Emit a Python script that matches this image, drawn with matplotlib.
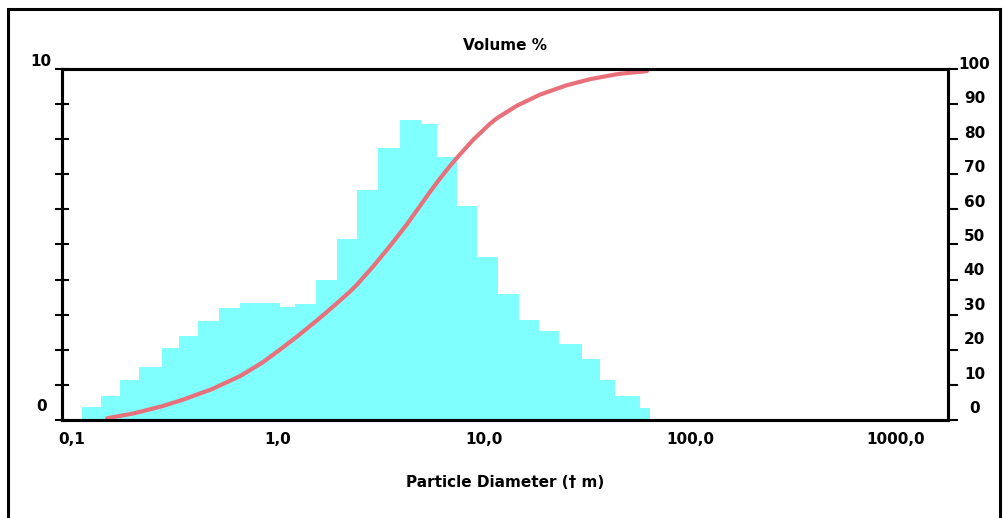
import matplotlib
matplotlib.use('Agg')
from matplotlib import pyplot as plt
from matplotlib.patches import Rectangle
from matplotlib.transforms import ScaledTranslation

# histogram classes (particle diameter, um) and volume % in each class
bin_edges = [0.112, 0.138, 0.171, 0.211, 0.273, 0.331, 0.409, 0.517, 0.654, 0.818,
             1.02, 1.21, 1.53, 1.93, 2.42, 3.06, 3.91, 4.95, 5.91, 7.39,
             9.25, 11.7, 14.8, 18.5, 23.1, 29.9, 36.6, 43.2, 57.2, 64.0]
volume_pct = [0.37, 0.68, 1.14, 1.51, 2.05, 2.39, 2.82, 3.19, 3.33, 3.33,
              3.22, 3.30, 3.99, 5.16, 6.55, 7.75, 8.55, 8.43, 7.49, 6.10,
              4.64, 3.59, 2.85, 2.54, 2.17, 1.74, 1.14, 0.68, 0.34]

# cumulative undersize curve
cum_size = [0.148, 0.20, 0.273, 0.35, 0.478, 0.654, 0.836, 1.02, 1.25, 1.546,
            1.9, 2.236, 2.418, 2.9, 3.498, 4.229, 4.89, 5.5, 6.114, 6.839,
            7.39, 8.843, 10.69, 11.56, 14.5, 18.7, 25.0, 32.7, 45.0, 61.8]
cum_pct = [0.5, 1.9, 3.9, 5.9, 8.8, 12.5, 16.3, 20.0, 24.0, 28.4,
           32.9, 36.6, 38.6, 43.8, 49.6, 55.8, 61.0, 65.2, 68.8, 72.4,
           74.7, 79.8, 84.4, 86.0, 89.6, 92.7, 95.3, 97.1, 98.6, 99.4]

x_ticks = [0.1, 1, 10, 100, 1000]
x_tick_labels = ['0,1', '1,0', '10,0', '100,0', '1000,0']
left_ticks = list(range(0, 11))
right_ticks = list(range(0, 101, 10))

fig = plt.figure(figsize=(10.07, 5.18), dpi=100)
ax = fig.add_axes([0.0616, 0.1892, 0.8798, 0.6776])

ax.stairs(volume_pct, bin_edges, fill=True, color='#80ffff', linewidth=0)
ax.set_xscale('log')
ax.set_xlim(0.0894, 1788)
ax.set_ylim(0, 10)
ax.set_xticks(x_ticks)
ax.set_xticklabels(x_tick_labels)
ax.minorticks_off()
ax.tick_params(axis='x', length=0, pad=9, labelsize=11)
ax.set_yticks(left_ticks)
ax.set_yticklabels(['0'] + [''] * 9 + ['10'])
ax.tick_params(axis='y', direction='inout', length=10, width=1.5, pad=10, labelsize=11)
for lab in ax.get_xticklabels() + ax.get_yticklabels():
    lab.set_fontweight('bold')
for lab in ax.get_yticklabels():
    lab.set_horizontalalignment('center')

ax2 = ax.twinx()
ax2.plot(cum_size, cum_pct, color='#e8707a', linewidth=3,
         solid_capstyle='round', solid_joinstyle='round')
ax2.set_ylim(0, 100)
ax2.set_yticks(right_ticks)
ax2.set_yticklabels([str(v) for v in right_ticks])
ax2.tick_params(axis='y', direction='out', length=7, width=1.5, pad=12, labelsize=11)
for lab in ax2.get_yticklabels():
    lab.set_fontweight('bold')
    lab.set_horizontalalignment('center')

for a in (ax, ax2):
    for sp in a.spines.values():
        sp.set_linewidth(2.2)

# labels in the original sit a little above their ticks
def shift_up(label, px):
    label.set_transform(label.get_transform() + ScaledTranslation(0, px / 100, fig.dpi_scale_trans))

left_labels = ax.yaxis.get_majorticklabels()
shift_up(left_labels[0], 15)
shift_up(left_labels[-1], 9)
for v, lab in zip(right_ticks, ax2.yaxis.get_majorticklabels()):
    shift_up(lab, 13 - 0.07 * v)

ax.set_title('Volume %', fontsize=11, fontweight='bold', pad=14)
ax.set_xlabel('Particle Diameter († m)', fontsize=11, fontweight='bold', labelpad=20)

# outer frame of the screenshot
fig.patches.append(Rectangle((8 / 1007, -0.05), 992 / 1007, 1 - 9 / 518 + 0.05,
                             transform=fig.transFigure, fill=False,
                             edgecolor='black', linewidth=2.2))

fig.savefig('out.png', dpi=100)
